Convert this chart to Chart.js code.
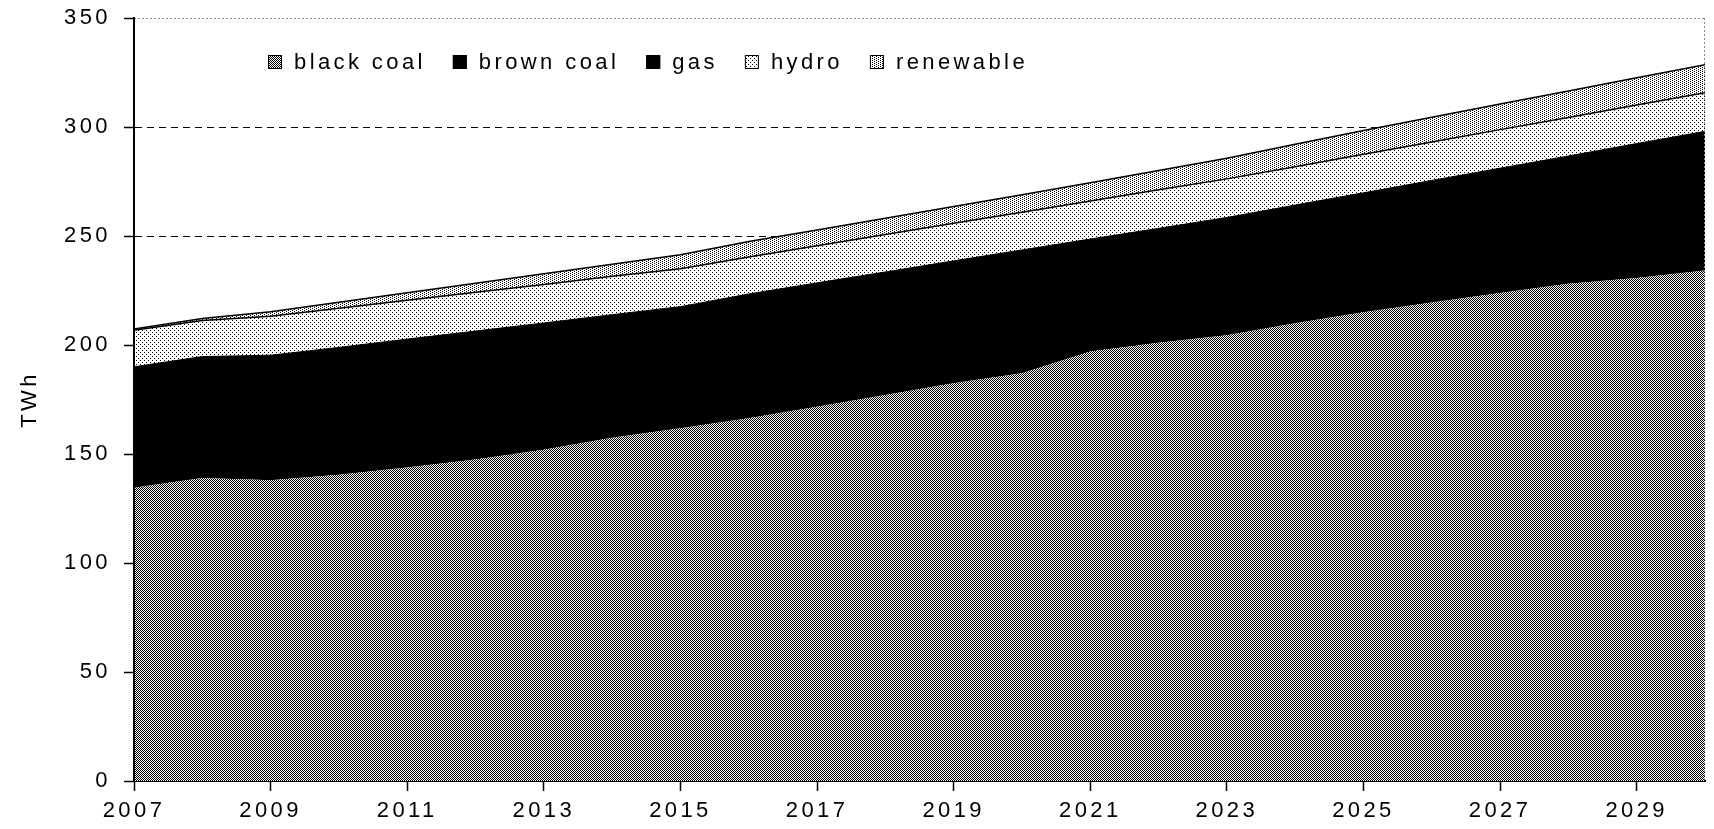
<!DOCTYPE html>
<html>
<head>
<meta charset="utf-8">
<script src="https://cdn.jsdelivr.net/npm/chart.js@4.4.1/dist/chart.umd.min.js"></script>
<style>
html,body{margin:0;padding:0;background:#ffffff;overflow:hidden}
canvas{display:block}
</style>
</head>
<body>
<canvas id="c" width="1714" height="829"></canvas>
<script>
// ---- data (TWh) ----
const years = [2007,2008,2009,2010,2011,2012,2013,2014,2015,2016,2017,2018,2019,2020,2021,2022,2023,2024,2025,2026,2027,2028,2029,2030];
const blackCoal = [134.5,139,138,140.5,143.8,147.5,152,157.5,161.8,166.4,171.7,177.1,182.4,187,197,201,204.5,210,215,219.5,223.8,228.1,230.7,234.2];
const brownCoal = [47.5,48,48.5,49,49,49,48.5,47,46.5,47,46.5,46,45.5,45.5,40,40,40.5,40,40,40.5,41,41,41.5,42];
const gas = [8,7.7,8.8,9.4,9.9,9.9,9.6,9.4,9.3,10,10.3,10.4,10.7,11.1,11.6,12.5,13.5,14.2,14.8,15.5,16.3,17.6,20.2,21.8];
const hydro = [16.8,16.5,17.9,18,17.8,17.8,17.7,17.6,17.4,17,17,17.2,17.2,17.3,17.5,17.7,17.7,17.6,17.7,17.6,17.7,17.7,17.7,17.7];
const renewable = [0.5,1.0,2.0,2.7,3.5,4.1,4.9,5.5,6.4,7.1,7.3,7.4,7.7,8.0,8.3,8.8,9.5,10.3,10.9,11.4,11.7,12.1,12.5,12.9];
const seriesNames = ['black coal','brown coal','gas','hydro','renewable'];
const xTickYears = [2007,2009,2011,2013,2015,2017,2019,2021,2023,2025,2027,2029];
const yAxisTitle = 'TWh';

// ---- styling ----
const FONT = '"Liberation Sans", Arial, sans-serif';
const FSIZE = 22;
const canvas = document.getElementById('c');
const mainCtx = canvas.getContext('2d');

function makePattern(w, h, dots) {
  const t = document.createElement('canvas');
  t.width = w; t.height = h;
  const x = t.getContext('2d');
  x.fillStyle = '#ffffff'; x.fillRect(0, 0, w, h);
  x.fillStyle = '#000000';
  dots.forEach(d => x.fillRect(d[0], d[1], 1, 1));
  return mainCtx.createPattern(t, 'repeat');
}
const patBlackCoal = makePattern(2, 2, [[0,0],[1,1]]);
const patHydro = makePattern(4, 4, [[0,0],[2,2]]);
const patRenew = makePattern(4, 2, [[0,0],[2,1]]);

function pts(arr) { return years.map((y, i) => ({x: y, y: arr[i]})); }

const LS = '3.4px';
const spacingPlugin = {
  id: 'spacing',
  beforeUpdate(chart) { chart.ctx.letterSpacing = LS; },
  beforeDraw(chart) { chart.ctx.letterSpacing = LS; }
};

const framePlugin = {
  id: 'frame',
  afterDatasetsDraw(chart) {
    const ctx = chart.ctx, a = chart.chartArea;
    ctx.save();
    // dotted grey frame top & right
    ctx.strokeStyle = '#8c8c8c';
    ctx.lineWidth = 1;
    ctx.setLineDash([2, 2]);
    ctx.beginPath();
    ctx.moveTo(a.left, Math.round(a.top) + 0.5);
    ctx.lineTo(a.right, Math.round(a.top) + 0.5);
    ctx.moveTo(Math.round(a.right) - 0.5, a.top);
    ctx.lineTo(Math.round(a.right) - 0.5, a.bottom);
    ctx.stroke();
    ctx.setLineDash([]);
    // solid left axis line
    ctx.strokeStyle = '#000';
    ctx.lineWidth = 2;
    ctx.beginPath();
    ctx.moveTo(a.left, a.top);
    ctx.lineTo(a.left, a.bottom);
    ctx.stroke();

    // legend inside plot area
    ctx.font = FSIZE + 'px ' + FONT;
    ctx.letterSpacing = LS;
    ctx.textBaseline = 'middle';
    ctx.textAlign = 'left';
    let x = a.left + 134;
    const y = a.top + 44;
    chart.data.datasets.forEach(ds => {
      ctx.fillStyle = ds.backgroundColor;
      ctx.fillRect(x, y - 7, 14, 14);
      ctx.strokeStyle = '#000';
      ctx.lineWidth = 1;
      ctx.strokeRect(x + 0.5, y - 6.5, 13, 13);
      ctx.fillStyle = '#000';
      ctx.fillText(ds.label, x + 26, y + 1);
      x += 26 + ctx.measureText(ds.label).width + 27;
    });
    ctx.restore();
  }
};

const datasets = [
  {label: seriesNames[0], data: pts(blackCoal), backgroundColor: patBlackCoal, borderWidth: 0, fill: 'origin'},
  {label: seriesNames[1], data: pts(brownCoal), backgroundColor: '#000000', borderColor: '#000000', borderWidth: 2, fill: '-1'},
  {label: seriesNames[2], data: pts(gas), backgroundColor: '#000000', borderColor: '#000000', borderWidth: 1, fill: '-1'},
  {label: seriesNames[3], data: pts(hydro), backgroundColor: patHydro, borderColor: '#000', borderWidth: 1.5, fill: '-1'},
  {label: seriesNames[4], data: pts(renewable), backgroundColor: patRenew, borderColor: '#000', borderWidth: 1.5, fill: '-1'}
];

new Chart(mainCtx, {
  type: 'line',
  data: {datasets},
  plugins: [spacingPlugin, framePlugin],
  options: {
    responsive: false,
    animation: false,
    devicePixelRatio: 1,
    layout: {padding: {top: 18, right: 9, bottom: 0, left: 0}},
    elements: {point: {radius: 0}, line: {tension: 0}},
    plugins: {legend: {display: false}, tooltip: {enabled: false}},
    scales: {
      x: {
        type: 'linear',
        min: 2007,
        max: 2030,
        z: 1,
        afterFit(s) { s.height = 48; },
        afterBuildTicks(s) { s.ticks = xTickYears.map(v => ({value: v})); },
        grid: {drawOnChartArea: false, drawTicks: true, tickLength: 10, tickColor: '#000', tickWidth: 1.5},
        border: {display: true, color: '#000', width: 2},
        ticks: {
          autoSkip: false,
          maxRotation: 0,
          padding: 7,
          color: '#000',
          font: {family: FONT, size: FSIZE},
          callback: v => String(v)
        }
      },
      y: {
        stacked: true,
        min: 0,
        max: 350,
        afterFit(s) { s.width = 134; s.paddingTop = 0; s.paddingBottom = 0; },
        grid: {
          color: c => (c.tick && c.tick.value === 350) ? 'rgba(0,0,0,0)' : '#000',
          lineWidth: 1,
          drawTicks: true,
          tickLength: 10,
          tickColor: '#000',
          tickWidth: 1.5
        },
        border: {display: true, color: '#000', width: 2, dash: [7, 5]},
        ticks: {
          stepSize: 50,
          padding: 13,
          color: '#000',
          font: {family: FONT, size: FSIZE}
        },
        title: {
          display: true,
          text: yAxisTitle,
          color: '#000',
          font: {family: FONT, size: FSIZE},
          padding: {top: 17, bottom: 0}
        }
      }
    }
  }
});
</script>
</body>
</html>
